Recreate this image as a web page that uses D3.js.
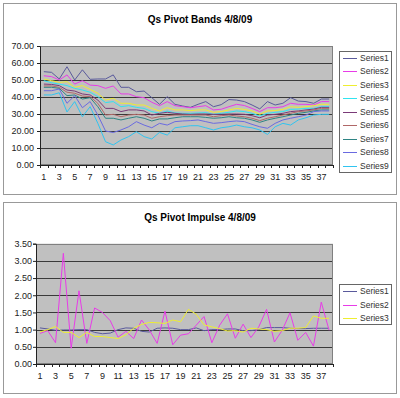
<!DOCTYPE html>
<html><head><meta charset="utf-8">
<script src="https://cdn.jsdelivr.net/npm/d3@7"></script>
<style>body{margin:0;background:#fff}svg{display:block}text{font-family:"Liberation Sans",Arial,sans-serif}</style>
</head><body><svg id="c" width="400" height="398"></svg>
<script>
const categories = [1,2,3,4,5,6,7,8,9,10,11,12,13,14,15,16,17,18,19,20,21,22,23,24,25,26,27,28,29,30,31,32,33,34,35,36,37,38];
const xTickLabels = [1,3,5,7,9,11,13,15,17,19,21,23,25,27,29,31,33,35,37];

// Chart 1: Qs Pivot Bands 4/8/09
const bandsTitle = "Qs Pivot Bands 4/8/09";
const bandsNames = ["Series1","Series2","Series3","Series4","Series5","Series6","Series7","Series8","Series9"];
const bandsS1 = [54.9,54.5,50.6,57.8,50.0,56.0,50.4,50.6,50.6,53.0,45.7,45.7,43.1,43.5,39.6,35.7,40.2,35.7,34.7,33.9,35.7,37.3,34.3,35.5,38.5,38.2,37.3,35.3,33.0,37.3,35.3,36.3,39.6,37.6,37.3,36.3,38.8,38.8];
const bandsS2 = [52.5,52.0,50.0,53.0,47.6,49.6,47.0,46.7,45.1,46.5,41.8,41.8,40.2,39.6,36.9,34.9,37.3,34.9,34.3,33.7,34.3,34.9,32.4,32.8,34.3,35.7,35.0,33.3,31.4,33.7,33.7,34.3,36.3,35.7,35.7,35.3,37.3,37.3];
const bandsS3 = [50.6,49.6,48.6,49.0,45.7,46.7,44.5,42.2,38.2,39.2,36.3,36.3,35.3,35.3,33.3,31.8,33.7,32.4,32.4,32.0,32.4,32.4,31.0,31.4,32.4,33.3,32.7,31.8,29.8,31.8,32.0,32.7,34.3,33.9,34.3,34.9,35.7,35.7];
const bandsS4 = [49.6,48.4,47.6,46.7,45.1,44.1,42.8,40.2,36.7,37.3,34.3,34.9,33.9,33.3,31.4,30.4,31.8,30.6,30.4,30.4,30.6,30.8,29.8,30.4,31.0,31.8,31.4,30.4,28.8,30.4,31.0,31.4,32.7,32.9,33.3,33.3,34.3,34.3];
const bandsS5 = [47.6,47.4,46.7,44.1,43.5,41.8,41.2,38.2,33.3,33.3,31.4,32.4,32.4,31.8,29.4,30.4,31.0,30.4,30.0,29.8,30.0,30.0,29.8,29.8,30.0,30.0,29.8,29.0,27.8,29.4,29.8,30.4,31.4,31.8,32.4,32.9,33.9,33.9];
const bandsS6 = [46.5,46.5,45.7,42.8,42.2,40.6,40.2,36.3,29.4,29.8,28.4,29.4,29.8,29.4,27.5,28.4,29.0,29.4,29.4,29.4,29.4,29.4,28.4,29.0,29.4,28.8,28.4,27.5,26.1,27.5,28.4,29.4,30.4,31.4,31.8,32.4,33.3,33.3];
const bandsS7 = [45.7,45.7,45.1,40.8,41.2,38.8,39.6,34.3,27.5,27.5,26.5,27.5,28.4,27.5,25.9,27.1,27.1,27.8,28.4,28.4,28.4,28.0,27.5,27.8,28.4,27.8,27.5,26.5,25.1,26.5,27.5,28.4,29.4,30.4,31.0,31.8,32.4,32.4];
const bandsS8 = [43.7,43.7,44.7,36.3,40.8,33.7,37.3,29.4,20.0,19.1,20.6,22.5,25.5,23.5,21.9,24.5,23.5,25.5,25.9,26.1,26.5,25.5,24.5,24.9,25.5,25.9,25.5,23.9,22.5,21.6,24.5,26.5,27.5,28.4,29.4,31.4,31.8,31.8];
const bandsS9 = [41.2,41.2,42.5,31.2,37.3,28.4,34.3,24.5,13.7,11.8,14.7,16.7,19.6,16.7,15.3,19.2,17.6,21.9,22.5,23.1,23.1,21.9,20.6,21.9,22.5,23.5,22.5,21.9,20.6,18.0,22.5,24.5,23.5,26.5,27.8,29.4,29.8,29.8];
const bandsYTicks = [0,10,20,30,40,50,60,70];

// Chart 2: Qs Pivot Impulse 4/8/09
const impulseTitle = "Qs Pivot Impulse 4/8/09";
const impulseNames = ["Series1","Series2","Series3"];
const impulseS1 = [1.05,1.02,0.98,0.99,0.99,1.0,1.0,0.92,0.88,0.90,1.0,1.05,1.04,0.95,0.93,1.04,1.05,1.04,1.0,1.0,1.05,0.97,1.0,1.0,1.02,1.02,0.97,0.97,1.0,1.06,1.06,1.06,1.04,1.03,1.03,1.04,1.04,1.04];
const impulseS2 = [0.89,0.97,0.62,3.22,0.46,2.13,0.60,1.63,1.50,1.26,0.78,0.95,0.74,1.28,0.99,0.60,1.54,0.56,0.84,0.88,1.13,1.38,0.62,1.13,1.46,0.75,1.16,0.77,1.08,1.59,0.64,0.98,1.49,0.69,0.92,0.52,1.80,0.98];
const impulseS3 = [0.93,1.0,1.09,0.92,0.92,0.77,0.92,0.80,0.80,0.77,0.74,0.85,1.04,1.15,1.21,1.20,1.18,1.28,1.23,1.59,1.45,1.14,1.08,1.03,0.96,0.97,0.93,1.04,1.02,1.0,0.95,0.97,1.04,1.04,1.06,1.40,1.33,1.33];
const impulseYTicks = [0,0.5,1,1.5,2,2.5,3,3.5];

const bandsColors = ["#5a5a9c","#e83ce8","#eeee30","#30e4f0","#7a3a78","#b06868","#2e8484","#6a6ae0","#30c4f0"];
const impulseColors = ["#5a5a9c","#e83ce8","#eeee30"];

const svg = d3.select("#c");

function drawChart(cfg){
  const g = svg.append("g");
  g.append("rect").attr("x",cfg.box[0]+0.5).attr("y",cfg.box[1]+0.5).attr("width",cfg.box[2]).attr("height",cfg.box[3])
    .attr("fill","#fff").attr("stroke","#999");
  g.append("text").attr("x",200).attr("y",cfg.titleY).attr("text-anchor","middle")
    .attr("font-size",10).attr("font-weight","bold").attr("fill","#000").text(cfg.title);

  const x = d3.scaleBand().domain(cfg.categories).range([cfg.plot.l,cfg.plot.r]).padding(0);
  const y = d3.scaleLinear().domain([0,cfg.yMax]).range([cfg.plot.b,cfg.plot.t]);

  g.append("rect").attr("x",cfg.plot.l).attr("y",cfg.plot.t).attr("width",cfg.plot.r-cfg.plot.l).attr("height",cfg.plot.b-cfg.plot.t)
    .attr("fill","#c0c0c0");
  g.append("g").selectAll("line").data(cfg.yTicks.slice(1)).join("line")
    .attr("x1",cfg.plot.l).attr("x2",cfg.plot.r)
    .attr("y1",d=>Math.round(y(d))+0.5).attr("y2",d=>Math.round(y(d))+0.5)
    .attr("stroke","#3a3a3a").attr("stroke-width",1);
  g.append("rect").attr("x",cfg.plot.l+0.5).attr("y",Math.round(cfg.plot.t)+0.5).attr("width",cfg.plot.r-cfg.plot.l-1).attr("height",cfg.plot.b-Math.round(cfg.plot.t)-1)
    .attr("fill","none").attr("stroke","#808080");

  // y axis
  const ya = g.append("g").attr("transform",`translate(${cfg.plot.l},0)`)
    .call(d3.axisLeft(y).tickValues(cfg.yTicks).tickFormat(d3.format(".2f")).tickSize(3).tickPadding(cfg.yPad));
  ya.select(".domain").attr("stroke","#222");
  ya.selectAll(".tick line").attr("stroke","#222");
  ya.selectAll("text").attr("font-size",9).attr("fill","#222").style("font-family","'Liberation Sans',Arial,sans-serif");

  // x axis
  const xa = g.append("g").attr("transform",`translate(0,${cfg.plot.b})`)
    .call(d3.axisBottom(x).tickValues(cfg.xLabels).tickSize(0).tickPadding(9));
  xa.select(".domain").attr("stroke","#222");
  xa.selectAll("text").attr("font-size",9).attr("fill","#222").style("font-family","'Liberation Sans',Arial,sans-serif");
  const bounds = cfg.categories.map(c=>x(c)).concat([x(cfg.categories[cfg.categories.length-1])+x.bandwidth()]);
  g.append("g").selectAll("line").data(bounds).join("line")
    .attr("x1",d=>Math.round(d)+0.5).attr("x2",d=>Math.round(d)+0.5)
    .attr("y1",cfg.plot.b).attr("y2",cfg.plot.b+3).attr("stroke","#222");

  // series
  const line = d3.line().x((d,i)=>x(cfg.categories[i])+x.bandwidth()/2).y(d=>y(d));
  cfg.series.forEach((s,i)=>{
    g.append("path").datum(s).attr("d",line).attr("fill","none").attr("stroke",cfg.colors[i]).attr("stroke-width",1);
  });

  // legend
  const L = cfg.legend;
  g.append("rect").attr("x",L.x+0.5).attr("y",L.y+0.5).attr("width",L.w).attr("height",L.h)
    .attr("fill","#fff").attr("stroke","#666");
  cfg.names.forEach((n,i)=>{
    const cy = L.first + i*L.step;
    g.append("line").attr("x1",L.x+4).attr("x2",L.x+18).attr("y1",Math.round(cy)+0.5).attr("y2",Math.round(cy)+0.5)
      .attr("stroke",cfg.colors[i]).attr("stroke-width",1);
    g.append("text").attr("x",L.x+21).attr("y",cy+3).attr("font-size",8.5).attr("fill","#333").text(n);
  });
}

drawChart({
  box:[3,3,393,191], title:bandsTitle, titleY:23,
  plot:{l:40,r:333,t:46,b:165}, yMax:70, yTicks:bandsYTicks, yPad:3,
  categories, xLabels:xTickLabels,
  series:[bandsS1,bandsS2,bandsS3,bandsS4,bandsS5,bandsS6,bandsS7,bandsS8,bandsS9],
  names:bandsNames, colors:bandsColors,
  legend:{x:339,y:51,w:52,h:121,first:57.7,step:13.5}
});
drawChart({
  box:[3,202,393,191], title:impulseTitle, titleY:221,
  plot:{l:36,r:333,t:243.7,b:364}, yMax:3.5, yTicks:impulseYTicks, yPad:1,
  categories, xLabels:xTickLabels,
  series:[impulseS1,impulseS2,impulseS3],
  names:impulseNames, colors:impulseColors,
  legend:{x:339,y:284,w:52,h:40,first:291,step:13.6}
});
</script></body></html>
